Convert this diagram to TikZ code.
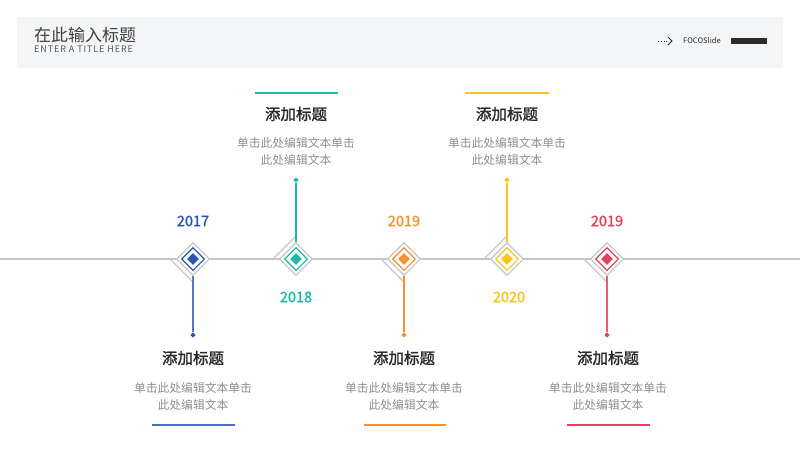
\documentclass[tikz,border=0pt]{standalone}
\usepackage{fontspec}
\setmainfont{Noto Sans CJK SC}
\usetikzlibrary{shapes.geometric, positioning}
\definecolor{cblue}{HTML}{2B57B3}
\definecolor{cteal}{HTML}{1BB9A7}
\definecolor{corange}{HTML}{F5922F}
\definecolor{cyellow}{HTML}{F9C51D}
\definecolor{cred}{HTML}{E0435A}
\definecolor{bandgray}{HTML}{F4F5F7}
\definecolor{linegray}{HTML}{C6C6C6}
\definecolor{titlegray}{HTML}{2B2B2B}
\definecolor{bodygray}{HTML}{8E8E8E}

\begin{document}
\begin{tikzpicture}[x=1pt, y=-1pt,
    outer/.style={diamond, draw=linegray, fill=white, line width=1.1pt,
        inner sep=0pt, minimum size=33pt},
    inner/.style={diamond, draw=#1, fill=white, line width=1.1pt,
        inner sep=0pt, minimum size=23pt},
    core/.style={diamond, fill=#1, inner sep=0pt, minimum size=12pt},
    tip/.style={diamond, fill=#1, inner sep=0pt, minimum size=5.5pt},
    stem/.style={draw=#1, line width=1.1pt},
    shade/.style={draw=linegray, line width=1.1pt},
    year/.style={font=\addfontfeatures{FakeBold=1.4}\fontsize{14.5}{16}\selectfont, text=#1},
    heading/.style={font=\addfontfeatures{FakeBold=1.6}\fontsize{15.5}{18}\selectfont, text=titlegray},
    body/.style={font=\fontsize{11.8}{17}\selectfont, text=bodygray, align=center},
    rule/.style={draw=#1, line width=1.4pt}
]
\useasboundingbox (0,0) rectangle (800,450);

% header band
\fill[bandgray] (17,17) rectangle (783,68);
\node (title) [anchor=west, inner sep=0pt, text=titlegray!90,
    font=\fontsize{17}{20}\selectfont] at (34,35) {在此输入标题};
\node (subtitle) [anchor=west, inner sep=0pt, text=titlegray!80,
    font=\addfontfeatures{LetterSpace=10}\fontsize{9}{10}\selectfont] at (34,49.5) {ENTER A TITLE HERE};
\node (brand) [anchor=west, inner sep=0pt, text=titlegray,
    font=\fontsize{7.6}{9}\selectfont] at (683,41) {FOCOSlide};
\coordinate (arrowtip) at (672,41);
\draw[titlegray, line width=0.8pt, dotted] (658,41) -- (667,41);
\draw[titlegray, line width=0.8pt] ([shift={(-4,-4)}]arrowtip) -- (arrowtip) -- ([shift={(-4,4)}]arrowtip);
\fill[titlegray] (731,38) rectangle (767,44);

% time line
\coordinate (lineL) at (0,259);
\coordinate (lineR) at (800,259);
\draw[linegray, line width=1.1pt] (lineL) -- (lineR);

% 2017
\draw[shade] (170,259) -- (193,282);
\node (m17) [outer] at (193,259) {};
\node (i17) [inner=cblue] at (m17) {};
\node (c17) [core=cblue] at (m17) {};
\node (t17) [tip=cblue] at (193,335) {};
\draw[stem=cblue!80] (m17.south) -- (t17);
\node (y17) [year=cblue] at (193,221) {2017};
\node (h17) [heading] at (193,358) {添加标题};
\node (b17) [body] at (193,396.5) {单击此处编辑文本单击\\此处编辑文本};
\draw[rule=cblue!85] (152,425) -- (235,425);

% 2018
\draw[shade] (273,259) -- (296,236);
\node (m18) [outer] at (296,259) {};
\node (i18) [inner=cteal] at (m18) {};
\node (c18) [core=cteal] at (m18) {};
\node (t18) [tip=cteal] at (296,180) {};
\draw[stem=cteal] (m18.north) -- (t18);
\node (y18) [year=cteal] at (296,297) {2018};
\node (h18) [heading] at (296,114) {添加标题};
\node (b18) [body] at (296,151.5) {单击此处编辑文本单击\\此处编辑文本};
\draw[rule=cteal] (255,93) -- (338,93);

% 2019
\draw[shade] (381,259) -- (404,282);
\node (m19) [outer] at (404,259) {};
\node (i19) [inner=corange] at (m19) {};
\node (c19) [core=corange] at (m19) {};
\node (t19) [tip=corange] at (404,335) {};
\draw[stem=corange] (m19.south) -- (t19);
\node (y19) [year=corange] at (404,221) {2019};
\node (h19) [heading] at (404,358) {添加标题};
\node (b19) [body] at (404,396.5) {单击此处编辑文本单击\\此处编辑文本};
\draw[rule=corange] (364,425) -- (446,425);

% 2020
\draw[shade] (484,259) -- (507,236);
\node (m20) [outer] at (507,259) {};
\node (i20) [inner=cyellow] at (m20) {};
\node (c20) [core=cyellow] at (m20) {};
\node (t20) [tip=cyellow] at (507,180) {};
\draw[stem=cyellow] (m20.north) -- (t20);
\node (y20) [year=cyellow] at (509,297) {2020};
\node (h20) [heading] at (507,114) {添加标题};
\node (b20) [body] at (507,151.5) {单击此处编辑文本单击\\此处编辑文本};
\draw[rule=cyellow] (465,93) -- (549,93);

% 2019 (red)
\draw[shade] (584,259) -- (607,282);
\node (m21) [outer] at (607,259) {};
\node (i21) [inner=cred] at (m21) {};
\node (c21) [core=cred] at (m21) {};
\node (t21) [tip=cred] at (607,335) {};
\draw[stem=cred!85] (m21.south) -- (t21);
\node (y21) [year=cred] at (607,221) {2019};
\node (h21) [heading] at (608,358) {添加标题};
\node (b21) [body] at (608,396.5) {单击此处编辑文本单击\\此处编辑文本};
\draw[rule=cred] (567,425) -- (650,425);
\end{tikzpicture}
\end{document}
